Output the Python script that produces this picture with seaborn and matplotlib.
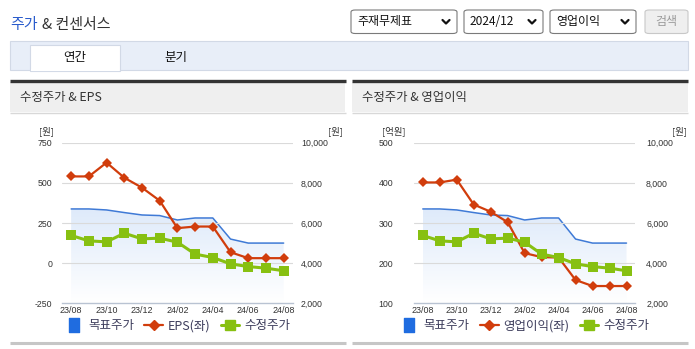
import numpy as np
import pandas as pd
import matplotlib
matplotlib.use("Agg")
import matplotlib.pyplot as plt
import seaborn as sns
from matplotlib.patches import Rectangle, FancyBboxPatch
from matplotlib.lines import Line2D
from matplotlib.path import Path

sns.set_theme(style="white")
plt.rcParams["font.family"] = ["Noto Sans CJK KR", "DejaVu Sans"]

# ---- data ----
months = ["23/08", "23/09", "23/10", "23/11", "23/12", "24/01", "24/02",
          "24/03", "24/04", "24/05", "24/06", "24/07", "24/08"]
target_price = [6700, 6700, 6650, 6520, 6400, 6370, 6150, 6250, 6250, 5200, 5000, 5000, 5000]
adj_price = [5380, 5110, 5060, 5490, 5210, 5245, 5045, 4450, 4280, 3965, 3830, 3750, 3620]
eps = [540, 540, 626, 532, 470, 389, 218, 228, 228, 68, 31, 31, 31]
op_profit = [401, 401, 408, 346, 328, 302, 225, 215, 214, 158, 143, 143, 143]

eps_ticks = [-250, 0, 250, 500, 750]
op_ticks = [100, 200, 300, 400, 500]
price_ticks = [2000, 4000, 6000, 8000, 10000]

df = pd.DataFrame({"month": months, "pos": np.arange(len(months)),
                   "target": target_price, "adj": adj_price,
                   "eps": eps, "op": op_profit})

W, H = 695, 349
fig = plt.figure(figsize=(W / 100, H / 100), dpi=100)
fig.patch.set_facecolor("white")

BLUE_LINE = "#3f7ad6"
BLUE_BOX = "#1f6ce0"
RED = "#d13d0c"
GREEN = "#87c011"
TXT = "#333333"
NUMFONT = "Liberation Sans"

# slightly tall box used as the legend key for the target price area
TALL_BOX = Path([(-0.4, -0.5), (0.4, -0.5), (0.4, 0.5), (-0.4, 0.5), (-0.4, -0.5)],
                [Path.MOVETO, Path.LINETO, Path.LINETO, Path.LINETO, Path.CLOSEPOLY])


def fx(x):
    return x / W


def fy(y):
    return 1 - y / H


def rect(x0, y0, x1, y1, **kw):
    fig.add_artist(Rectangle((fx(x0), fy(y1)), fx(x1) - fx(x0), fy(y0) - fy(y1),
                             transform=fig.transFigure, **kw))


def hline(x0, x1, y, color, lw):
    fig.add_artist(Line2D([fx(x0), fx(x1)], [fy(y), fy(y)], color=color, lw=lw,
                          transform=fig.transFigure, solid_capstyle="butt"))


# ---- page header ----
fig.text(fx(10), fy(25), "주가", color="#2a5ccc", fontsize=10.8, va="center", ha="left")
fig.text(fx(42), fy(25), "& 컨센서스", color=TXT, fontsize=10.8, va="center", ha="left")

# dropdown selectors
selects = [(351, 457, "주재무제표"), (464, 543, "2024/12"), (550, 636, "영업이익")]
for x0, x1, label in selects:
    fig.add_artist(FancyBboxPatch((fx(x0), fy(33.5)), fx(x1) - fx(x0), fy(10) - fy(33.5),
                                  boxstyle="round,pad=0,rounding_size=0.006",
                                  transform=fig.transFigure, fc="white", ec="#7a7a7a", lw=0.8))
    fig.text(fx(x0 + 6), fy(21.5), label, fontsize=8.6, color="#111111", va="center", ha="left")
    cx = x1 - 11
    fig.add_artist(Line2D([fx(cx - 3.5), fx(cx), fx(cx + 3.5)], [fy(20), fy(23.5), fy(20)],
                          transform=fig.transFigure, color="#111111", lw=1.6))
fig.add_artist(FancyBboxPatch((fx(645), fy(33.5)), fx(688) - fx(645), fy(10) - fy(33.5),
                              boxstyle="round,pad=0,rounding_size=0.006",
                              transform=fig.transFigure, fc="#efefef", ec="#c8c8c8", lw=0.8))
fig.text(fx(666.5), fy(21.5), "검색", fontsize=8.6, color="#9a9a9a", va="center", ha="center")

# tab bar
rect(10, 40.5, 688, 69.5, fc="#e8eef8", ec="#d2d9e6", lw=0.8)
rect(30, 45.5, 120, 70.5, fc="white", ec="#d2d9e6", lw=0.8)
hline(30.6, 119.4, 70, "white", 1.5)
fig.text(fx(75), fy(57.5), "연간", fontsize=9, color="#111111", va="center", ha="center")
fig.text(fx(176), fy(57.5), "분기", fontsize=9, color="#111111", va="center", ha="center")

# ---- chart panels ----
panels = [
    dict(x0=10, x1=345.5, title="수정주가 & EPS", ax_x0=62.3, ax_x1=292.5,
         left_vals=eps, left_ticks=eps_ticks, left_unit="[원]", left_label="EPS(좌)",
         lu_x=46, ru_x=335, lpad=7, rpad=6),
    dict(x0=352, x1=688, title="수정주가 & 영업이익", ax_x0=414.3, ax_x1=635,
         left_vals=op_profit, left_ticks=op_ticks, left_unit="[억원]", left_label="영업이익(좌)",
         lu_x=394, ru_x=679, lpad=15, rpad=8),
]

AX_TOP, AX_BOT = 142.7, 303.3

for p in panels:
    # panel header band
    hline(p["x0"], p["x1"], 81, "#333333", 2.4)
    rect(p["x0"], 82, p["x1"], 112, fc="#efefef", ec="none")
    hline(p["x0"], p["x1"], 112.5, "#d8d8d8", 1.0)
    fig.text(fx(p["x0"] + 10), fy(97.5), p["title"], fontsize=8.9, color="#333333",
             va="center", ha="left")
    # bottom rule
    hline(p["x0"], p["x1"], 342.8, "#c6c6c6", 2.2)

    ax = fig.add_axes([fx(p["ax_x0"]), fy(AX_BOT), fx(p["ax_x1"]) - fx(p["ax_x0"]),
                       fy(AX_TOP) - fy(AX_BOT)])
    ax2 = ax.twinx()
    ax.set_zorder(ax2.get_zorder() + 1)
    ax.patch.set_visible(False)

    n = len(months)
    ax.set_xlim(-0.5, n - 0.5)
    ax.set_ylim(p["left_ticks"][0], p["left_ticks"][-1])

    # gradient area under target price
    poly = ax2.fill_between(df["pos"], df["target"], price_ticks[0], color="none", lw=0)
    grad = np.linspace(1, 0, 256).reshape(-1, 1)
    cmap = matplotlib.colors.LinearSegmentedColormap.from_list("g", ["#ffffff", "#deeafa"])
    img = ax2.imshow(grad, cmap=cmap, aspect="auto", origin="upper",
                     extent=[0, n - 1, price_ticks[0], max(target_price)], zorder=1,
                     vmin=0, vmax=1)
    img.set_clip_path(poly.get_paths()[0], transform=ax2.transData)
    ax2.set_xlim(-0.5, n - 0.5)
    ax2.set_ylim(price_ticks[0], price_ticks[-1])

    sns.lineplot(data=df, x="pos", y="target", ax=ax2, color=BLUE_LINE, lw=1.1, zorder=3)
    sns.lineplot(x=df["pos"], y=p["left_vals"], ax=ax, color=RED, lw=1.6, marker="D",
                 markersize=5.5, markeredgewidth=0, zorder=4)
    # adjusted price on its own overlay so it draws above the red line
    ax3 = ax.twinx()
    ax3.set_ylim(price_ticks[0], price_ticks[-1])
    ax3.set_xlim(-0.5, n - 0.5)
    ax3.axis("off")
    sns.lineplot(data=df, x="pos", y="adj", ax=ax3, color=GREEN, lw=2.2, marker="s",
                 markersize=7.2, markeredgewidth=0, zorder=5)

    # grid
    for t in p["left_ticks"][1:]:
        ax.axhline(t, color="#dadada", lw=0.8, zorder=0)

    for a in (ax, ax2, ax3):
        a.set_xlabel("")
        a.set_ylabel("")
        for s in a.spines.values():
            s.set_visible(False)

    ax.spines["bottom"].set_visible(True)
    ax.spines["bottom"].set_color("#b9c3d2")
    ax.spines["bottom"].set_linewidth(1.0)

    # x ticks: marks between bands, labels every second month
    ax.set_xticks([-0.5] + list(np.arange(0.5, n, 2.0)) + [n - 0.5], minor=True)
    ax.set_xticks(df["pos"][::2])
    ax.set_xticklabels(df["month"][::2], fontsize=6.4, color=TXT, family=NUMFONT)
    ax.tick_params(axis="x", which="major", length=0, pad=2)
    ax.tick_params(axis="x", which="minor", length=4, color="#b9c3d2", width=1.0)

    ax.set_yticks(p["left_ticks"])
    ax.set_yticklabels([f"{t:,}" for t in p["left_ticks"]], fontsize=6.3, color=TXT,
                       family=NUMFONT)
    ax.tick_params(axis="y", length=0, pad=p["lpad"])
    ax2.set_yticks(price_ticks)
    ax2.set_yticklabels([f"{t:,}" for t in price_ticks], fontsize=6.3, color=TXT,
                        family=NUMFONT)
    ax2.tick_params(axis="y", length=0, pad=p["rpad"])

    fig.text(fx(p["lu_x"]), fy(131.5), p["left_unit"], fontsize=6.8, color=TXT,
             ha="center", va="center")
    fig.text(fx(p["ru_x"]), fy(131.5), "[원]", fontsize=6.8, color=TXT,
             ha="center", va="center")

    handles = [
        Line2D([], [], ls="none", marker=TALL_BOX, markersize=9.5, color=BLUE_BOX),
        Line2D([], [], color=RED, lw=1.6, marker="D", markersize=5),
        Line2D([], [], color=GREEN, lw=2.2, marker="s", markersize=6.5),
    ]
    labels = ["목표주가", p["left_label"], "수정주가"]
    cx = (p["ax_x0"] + p["ax_x1"]) / 2
    fig.legend(handles, labels, loc="center", bbox_to_anchor=(fx(cx), fy(326)),
               ncol=3, frameon=False, fontsize=9, handlelength=1.5, handletextpad=0.4,
               columnspacing=0.8, labelcolor="#3d3d5c", borderpad=0)

fig.savefig("out.png", dpi=100, facecolor="white")
